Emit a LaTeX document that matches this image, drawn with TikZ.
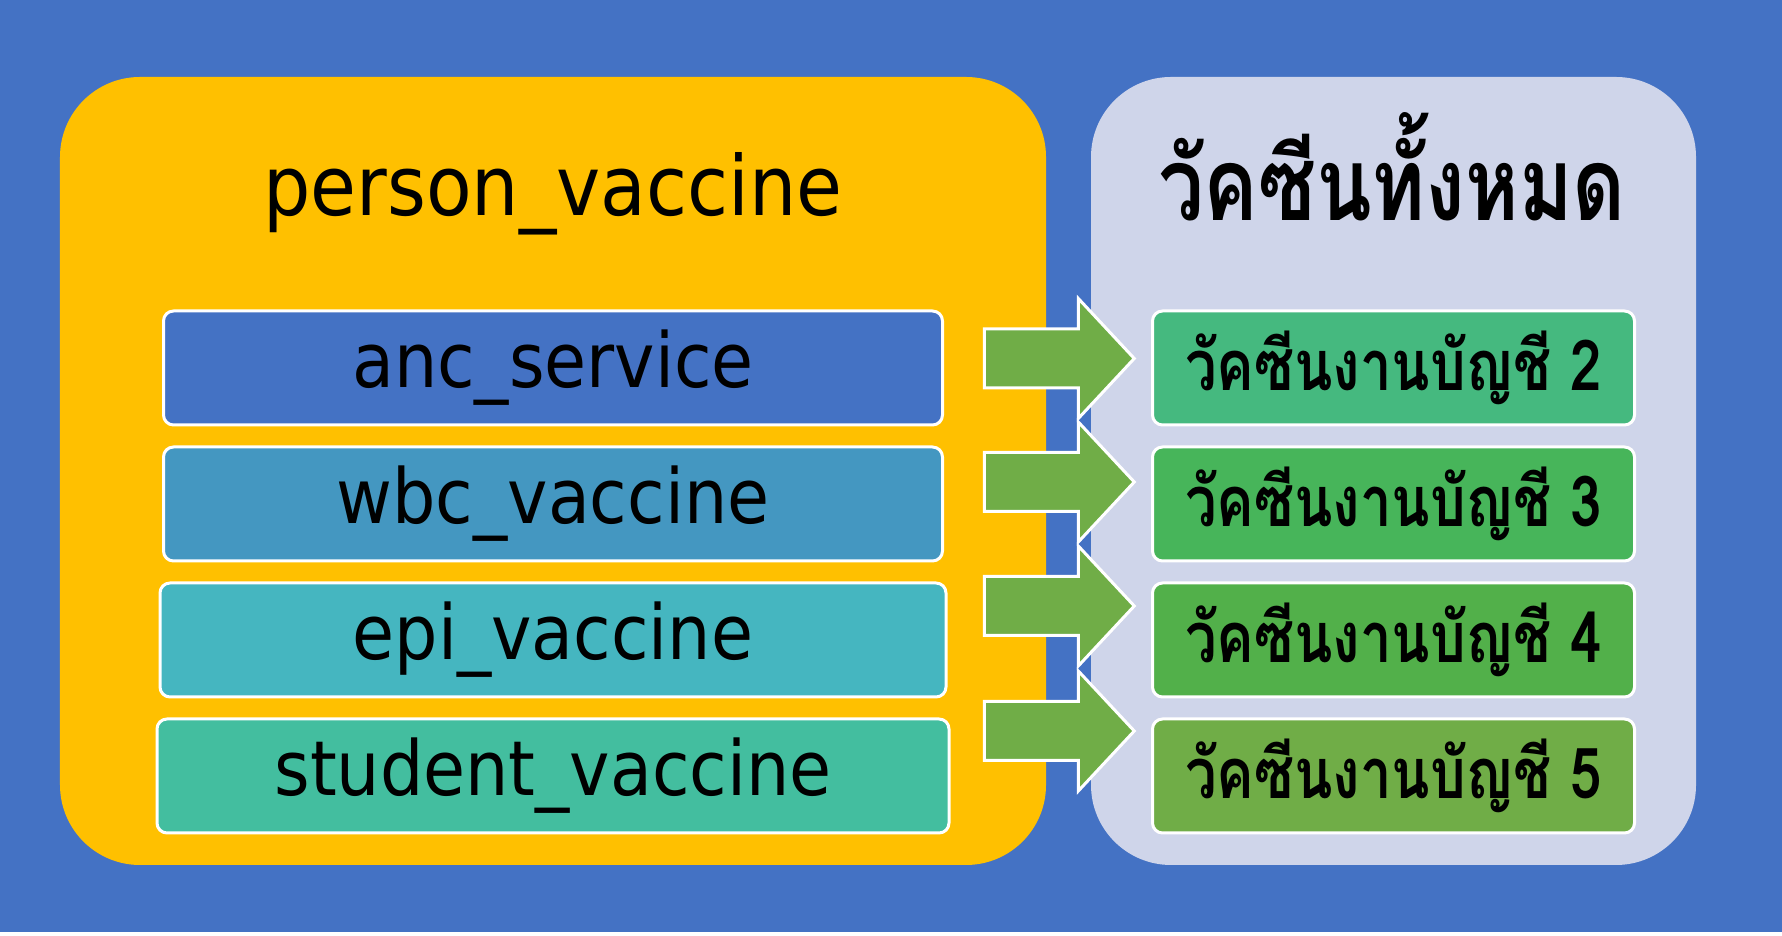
\documentclass[tikz,border=0pt]{standalone}
\usepackage{fontspec}
\setmainfont{DejaVu Sans}[FakeStretch=0.9]
\newfontfamily\thaifont[Script=Thai, FakeStretch=0.8]{Loma}
\usepackage{xcolor}
\usetikzlibrary{shapes.arrows, positioning}

\definecolor{bgblue}{HTML}{4472C4}
\definecolor{panelyellow}{HTML}{FFC000}
\definecolor{panellav}{HTML}{CFD5EA}
\definecolor{ancblue}{HTML}{4472C4}
\definecolor{wbcblue}{HTML}{4497C1}
\definecolor{epiteal}{HTML}{45B6C0}
\definecolor{studteal}{HTML}{43BE9F}
\definecolor{acctwo}{HTML}{45B97F}
\definecolor{accthree}{HTML}{47B55A}
\definecolor{accfour}{HTML}{52B04A}
\definecolor{accfive}{HTML}{70AD47}
\definecolor{arrowgreen}{HTML}{70AD47}

\begin{document}
\begin{tikzpicture}[
		x=1mm, y=1mm,
		% Defining consistent styles
		panel/.style={
				rectangle,
				rounded corners=8mm,
				minimum height=78.8mm,
				inner sep=0pt
			},
		paneltitle/.style={
				inner sep=0pt,
				text=black
			},
		tablebox/.style={
				rectangle,
				rounded corners=1mm,
				draw=white,
				line width=0.3mm,
				minimum height=11.4mm,
				inner sep=0pt,
				text=black,
				font=\fontsize{21.6pt}{26pt}\selectfont
			},
		accountbox/.style={
				rectangle,
				rounded corners=1mm,
				draw=white,
				line width=0.3mm,
				minimum width=48.2mm,
				minimum height=11.4mm,
				inner sep=0pt,
				text=black,
				font=\thaifont\bfseries\fontsize{20pt}{24pt}\selectfont
			},
		% Defining arrow styles
		flowarrow/.style={
				single arrow,
				draw=white,
				fill=arrowgreen,
				line width=0.3mm,
				minimum height=15mm,
				minimum width=11.7mm,
				single arrow head extend=3.05mm,
				single arrow head indent=0pt,
				single arrow tip angle=94,
				inner xsep=0pt,
				inner ysep=2.8mm
			},
		node distance=1.9mm
		]

		% Background
		\useasboundingbox (0,0) rectangle (178.2,93.6);
		\fill[white] (0,0) rectangle (178.2,93.6);
		\fill[bgblue] (0,0.4) rectangle (178.2,93.6);

		% Panels
		\node[panel, fill=panelyellow, minimum width=98.6mm] (left_panel) at (55.3,46.5) {};
		\node[panel, fill=panellav, minimum width=60.5mm] (right_panel) at (139.35,46.5) {};

		\node[paneltitle, font=\fontsize{23.6pt}{28pt}\selectfont] (left_title) at (55.3,74.2) {person\_vaccine};
		\node[paneltitle, font=\thaifont\bfseries\fontsize{29pt}{34pt}\selectfont] (right_title) at (139.2,76.9) {วัคซีนทั้งหมด};

		% Source tables
		\node[tablebox, fill=ancblue, minimum width=77.9mm] (anc_box) at (55.3,56.8) {anc\_service};
		\node[tablebox, fill=wbcblue, minimum width=77.9mm, below=of anc_box] (wbc_box) {wbc\_vaccine};
		\node[tablebox, fill=epiteal, minimum width=78.6mm, below=of wbc_box] (epi_box) {epi\_vaccine};
		\node[tablebox, fill=studteal, minimum width=79.2mm, below=of epi_box] (student_box) {student\_vaccine};

		% Vaccine accounts
		\node[accountbox, fill=acctwo] (acct_two) at (139.35,56.8) {วัคซีนงานบัญชี 2};
		\node[accountbox, fill=accthree, below=of acct_two] (acct_three) {วัคซีนงานบัญชี 3};
		\node[accountbox, fill=accfour, below=of acct_three] (acct_four) {วัคซีนงานบัญชี 4};
		\node[accountbox, fill=accfive, below=of acct_four] (acct_five) {วัคซีนงานบัญชี 5};

		% Block arrows
		\node[flowarrow] (arrow_two) at (104.55,57.75) {};
		\node[flowarrow] (arrow_three) at (104.55,45.4) {};
		\node[flowarrow] (arrow_four) at (104.55,33.0) {};
		\node[flowarrow] (arrow_five) at (104.55,20.5) {};

	\end{tikzpicture}
\end{document}
